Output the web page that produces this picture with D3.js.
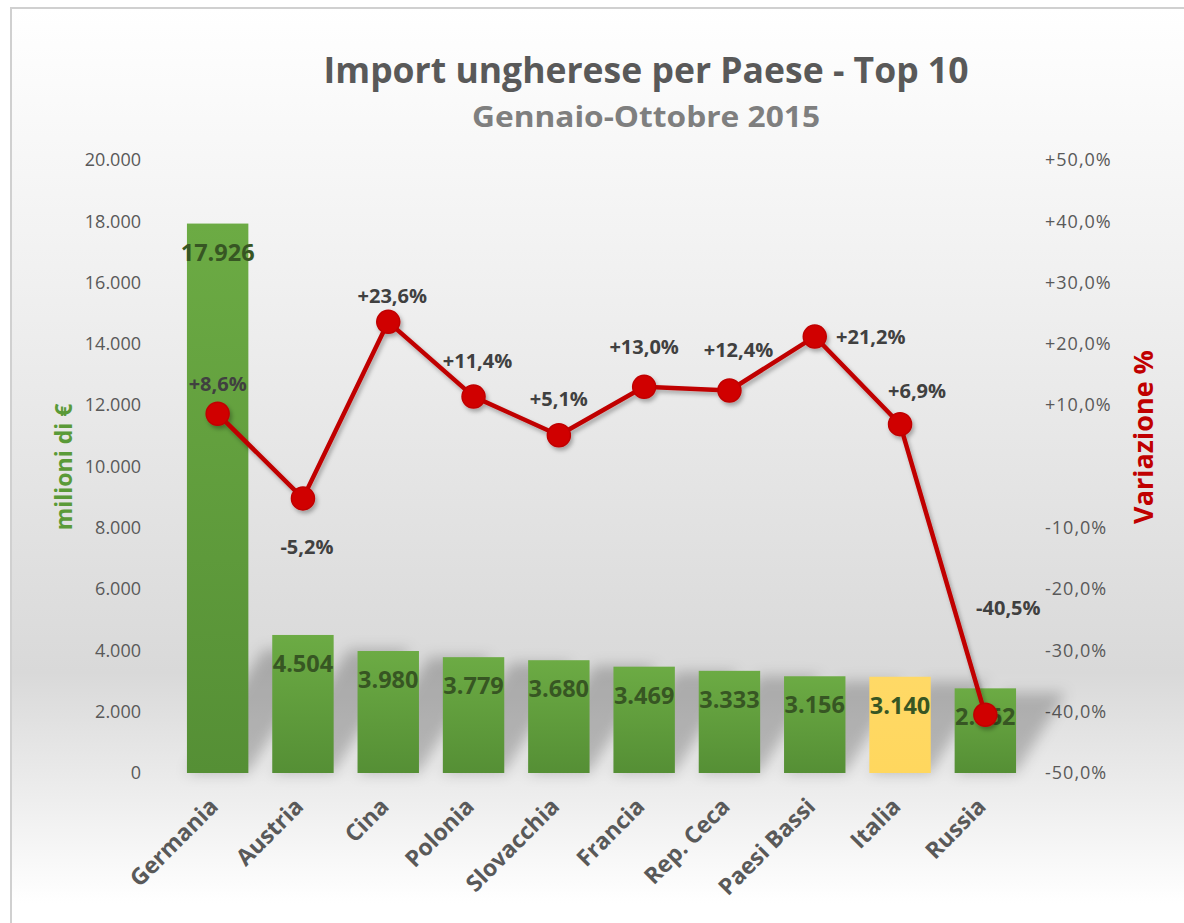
<!DOCTYPE html>
<html>
<head>
<meta charset="utf-8">
<script src="https://cdn.jsdelivr.net/npm/d3@7"></script>
<style>
  body { margin: 0; background: #fff; }
  svg text { font-family: "Open Sans", sans-serif; }
</style>
</head>
<body>
<script>
// data
const paesi = ["Germania", "Austria", "Cina", "Polonia", "Slovacchia", "Francia", "Rep. Ceca", "Paesi Bassi", "Italia", "Russia"];
const importMln = [17926, 4504, 3980, 3779, 3680, 3469, 3333, 3156, 3140, 2762];
const variazione = [8.6, -5.2, 23.6, 11.4, 5.1, 13.0, 12.4, 21.2, 6.9, -40.5];
const leftTicks = [0, 2000, 4000, 6000, 8000, 10000, 12000, 14000, 16000, 18000, 20000];
const rightTicks = [-50, -40, -30, -20, -10, 10, 20, 30, 40, 50];
// where each % label sits around its marker (manual in the original)
const labelNudge = [[0, -30], [4, 49], [4, -26], [4, -36], [0, -36], [0, -40], [9, -40], [56, 0], [17, -33], [23, -107]];

const W = 1184, H = 923;
const it = d3.formatLocale({ decimal: ",", thousands: ".", grouping: [3], currency: ["", "€"], minus: "-" });
const fmtNum = it.format(",d");
const fmtPct = v => (v > 0 ? "+" : "") + it.format(".1f")(v) + "%";

const svg = d3.select("body").append("svg")
    .attr("width", W)
    .attr("height", H);

const defs = svg.append("defs");

const bg = defs.append("linearGradient").attr("id", "bg")
    .attr("x1", 0).attr("y1", 0).attr("x2", 0).attr("y2", 1);
bg.append("stop").attr("offset", "0").attr("stop-color", "#ffffff");
bg.append("stop").attr("offset", "0.3").attr("stop-color", "#f0f0f0");
bg.append("stop").attr("offset", "0.72").attr("stop-color", "#d9d9d9");
bg.append("stop").attr("offset", "0.97").attr("stop-color", "#ffffff");

const green = defs.append("linearGradient").attr("id", "green")
    .attr("x1", 0).attr("y1", 0).attr("x2", 0).attr("y2", 1);
green.append("stop").attr("offset", "0").attr("stop-color", "#6cab44");
green.append("stop").attr("offset", "1").attr("stop-color", "#558f35");

const yellow = defs.append("linearGradient").attr("id", "yellow")
    .attr("x1", 0).attr("y1", 0).attr("x2", 0).attr("y2", 1);
yellow.append("stop").attr("offset", "0").attr("stop-color", "#ffd966");
yellow.append("stop").attr("offset", "1").attr("stop-color", "#ffd75e");

defs.append("filter").attr("id", "blur")
    .attr("x", "-50%").attr("y", "-50%").attr("width", "200%").attr("height", "200%")
  .append("feGaussianBlur").attr("stdDeviation", 7);

const ds = defs.append("filter").attr("id", "dshadow")
    .attr("x", "-20%").attr("y", "-20%").attr("width", "140%").attr("height", "140%");
ds.append("feDropShadow").attr("dx", 2).attr("dy", 3).attr("stdDeviation", 2)
    .attr("flood-color", "#000").attr("flood-opacity", 0.3);

// background + frame
svg.append("rect")
    .attr("x", 11).attr("y", 8)
    .attr("width", W).attr("height", H)
    .attr("fill", "url(#bg)")
    .attr("stroke", "#d0d0d0")
    .attr("stroke-width", 2);

// scales
const x = d3.scaleBand().domain(paesi).range([175, 1028]).paddingInner(0.28).paddingOuter(0.14);
const y = d3.scaleLinear().domain([0, 20000]).range([773, 160]);
const y2 = d3.scaleLinear().domain([-50, 50]).range([773, 160]);

// titles
svg.append("text")
    .attr("x", 646).attr("y", 83)
    .attr("text-anchor", "middle")
    .attr("font-size", 35).attr("font-weight", "bold")
    .attr("fill", "#595959")
    .attr("textLength", 645).attr("lengthAdjust", "spacingAndGlyphs")
    .text("Import ungherese per Paese - Top 10");

svg.append("text")
    .attr("x", 646).attr("y", 127)
    .attr("text-anchor", "middle")
    .attr("font-size", 28).attr("font-weight", "bold")
    .attr("fill", "#7f7f7f")
    .attr("textLength", 348).attr("lengthAdjust", "spacingAndGlyphs")
    .text("Gennaio-Ottobre 2015");

// axes
const gl = svg.append("g")
    .attr("transform", "translate(175,0)")
    .call(d3.axisLeft(y).tickValues(leftTicks).tickFormat(fmtNum).tickSize(0).tickPadding(34));
const gr = svg.append("g")
    .attr("transform", "translate(1028,0)")
    .call(d3.axisRight(y2).tickValues(rightTicks).tickFormat(fmtPct).tickSize(0).tickPadding(17));
[gl, gr].forEach(g => {
    g.select(".domain").remove();
    g.selectAll("text")
        .attr("font-family", "Open Sans, sans-serif")
        .attr("font-size", 18)
        .attr("fill", "#595959");
});
gr.selectAll("text").attr("letter-spacing", 1);

svg.append("text")
    .attr("transform", "translate(72,467) rotate(-90)")
    .attr("text-anchor", "middle")
    .attr("font-size", 23).attr("font-weight", "bold")
    .attr("fill", "#5a9a38")
    .text("milioni di €");

svg.append("text")
    .attr("transform", "translate(1153,437) rotate(-90)")
    .attr("text-anchor", "middle")
    .attr("font-size", 27).attr("font-weight", "bold")
    .attr("fill", "#c00000")
    .text("Variazione %");

// perspective-ish bar shadows
svg.append("g").attr("filter", "url(#blur)")
  .selectAll("path")
  .data(importMln)
  .join("path")
    .attr("d", (d, i) => {
        const x0 = x(paesi[i]), w = x.bandwidth();
        const hs = Math.min(y(0) - y(d), 130) * 0.95;
        const sx = hs * 0.62;
        return `M${x0},${y(0)}L${x0 + w},${y(0)}L${x0 + w + sx},${y(0) - hs}L${x0 + sx},${y(0) - hs}Z`;
    })
    .attr("fill", "#000")
    .attr("opacity", 0.22);

// bars
svg.append("g")
  .selectAll("rect")
  .data(importMln)
  .join("rect")
    .attr("x", (d, i) => x(paesi[i]))
    .attr("y", d => y(d))
    .attr("width", x.bandwidth())
    .attr("height", d => y(0) - y(d))
    .attr("fill", (d, i) => paesi[i] === "Italia" ? "url(#yellow)" : "url(#green)");

svg.append("g")
  .selectAll("text")
  .data(importMln)
  .join("text")
    .attr("x", (d, i) => x(paesi[i]) + x.bandwidth() / 2)
    .attr("y", d => y(d) + 37)
    .attr("text-anchor", "middle")
    .attr("font-size", 23.5).attr("font-weight", "bold")
    .attr("fill", "#375623")
    .text(d => fmtNum(d));

// line
const cx = i => x(paesi[i]) + x.bandwidth() / 2;
const line = d3.line().x((d, i) => cx(i)).y(d => y2(d));

const lg = svg.append("g").attr("filter", "url(#dshadow)");
lg.append("path")
    .datum(variazione)
    .attr("d", line)
    .attr("fill", "none")
    .attr("stroke", "#c00000")
    .attr("stroke-width", 4.5)
    .attr("stroke-linejoin", "round");
lg.selectAll("circle")
  .data(variazione)
  .join("circle")
    .attr("cx", (d, i) => cx(i))
    .attr("cy", d => y2(d))
    .attr("r", 11.5)
    .attr("fill", "#d00000")
    .attr("stroke", "#c00000")
    .attr("stroke-width", 1.5);

svg.append("g")
  .selectAll("text")
  .data(variazione)
  .join("text")
    .attr("x", (d, i) => cx(i) + labelNudge[i][0])
    .attr("y", (d, i) => y2(d) + labelNudge[i][1] + 7)
    .attr("text-anchor", "middle")
    .attr("font-size", 20).attr("font-weight", "bold")
    .attr("fill", "#404040")
    .text(d => fmtPct(d));

// category labels
svg.append("g")
  .selectAll("text")
  .data(paesi)
  .join("text")
    .attr("transform", d => `translate(${x(d) + x.bandwidth() / 2 + 2},${808}) rotate(-45)`)
    .attr("text-anchor", "end")
    .attr("font-size", 23).attr("font-weight", "bold")
    .attr("fill", "#595959")
    .text(d => d);
</script>
</body>
</html>
